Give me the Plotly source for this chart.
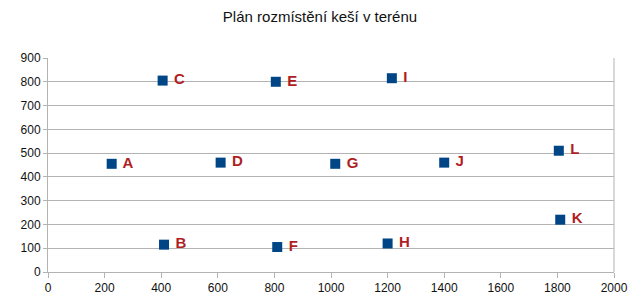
import plotly.graph_objects as go

# Cache positions in the field
names = ["A", "B", "C", "D", "E", "F", "G", "H", "I", "J", "K", "L"]
xs = [225, 410, 405, 610, 805, 810, 1015, 1200, 1215, 1400, 1810, 1805]
ys = [455, 115, 805, 460, 800, 105, 455, 120, 815, 460, 220, 510]

x_ticks = [0, 200, 400, 600, 800, 1000, 1200, 1400, 1600, 1800, 2000]
y_ticks = [0, 100, 200, 300, 400, 500, 600, 700, 800, 900]

fig = go.Figure(
    go.Scatter(
        x=xs,
        y=ys,
        mode="markers+text",
        text=[" " + n for n in names],
        textposition="middle right",
        textfont=dict(family="Liberation Sans, Arial", size=15, color="#b01e24", weight="bold"),
        marker=dict(symbol="square", size=10, color="#004586"),
        cliponaxis=False,
        hoverinfo="skip",
    )
)

fig.update_layout(
    width=640,
    height=303,
    margin=dict(l=48, r=26, t=58, b=31, autoexpand=False),
    paper_bgcolor="white",
    plot_bgcolor="white",
    showlegend=False,
    title=dict(
        text="Plán rozmístění keší v terénu",
        x=0.5,
        xanchor="center",
        y=0.945,
        yanchor="middle",
        font=dict(family="Liberation Sans, Arial", size=15, color="#111111"),
    ),
    font=dict(family="Liberation Sans, Arial", size=12, color="#111111"),
)

fig.update_xaxes(
    range=[0, 2000],
    tickvals=x_ticks,
    ticktext=[str(v) for v in x_ticks],
    showgrid=False,
    zeroline=False,
    showline=True,
    linecolor="#b3b3b3",
    linewidth=1,
    ticks="outside",
    ticklen=5,
    tickcolor="#b3b3b3",
    automargin=False,
)
fig.update_yaxes(
    range=[0, 900],
    tickvals=y_ticks,
    ticktext=[str(v) for v in y_ticks],
    showgrid=True,
    gridcolor="#b3b3b3",
    gridwidth=1,
    zeroline=False,
    showline=True,
    linecolor="#b3b3b3",
    linewidth=1,
    ticks="outside",
    ticklen=4,
    tickcolor="#b3b3b3",
    automargin=False,
)

# right border line of the plot area
fig.add_shape(type="line", xref="paper", yref="paper", x0=1, x1=1, y0=0, y1=1,
              line=dict(color="#b3b3b3", width=1))

fig.write_html("out.html")
